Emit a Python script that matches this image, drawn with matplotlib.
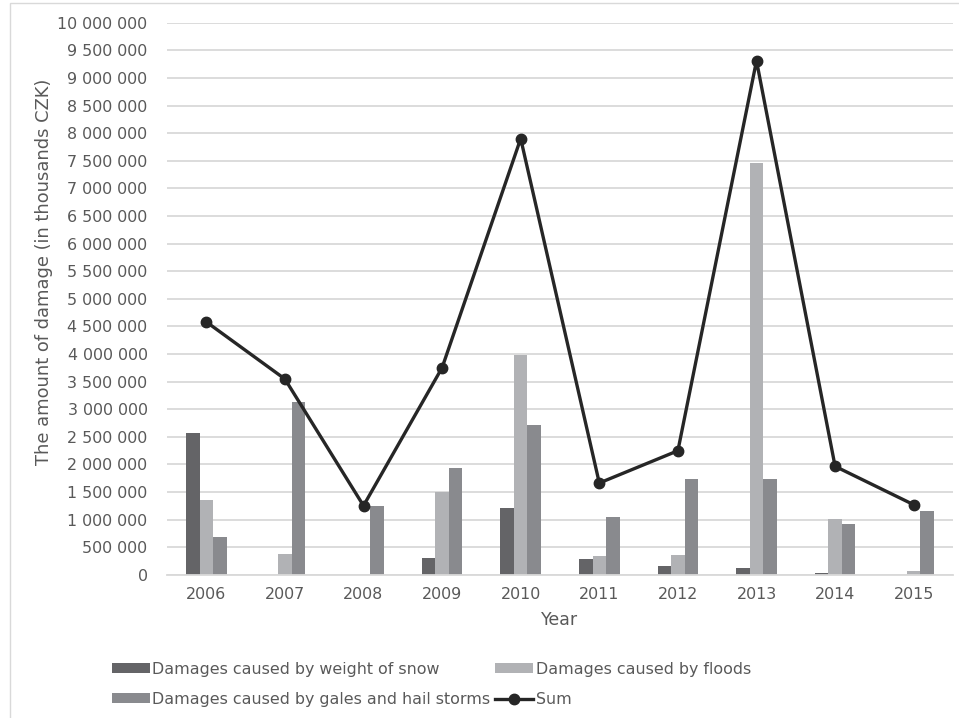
import matplotlib
matplotlib.use("Agg")
import matplotlib.pyplot as plt
import numpy as np
from matplotlib.patches import Rectangle
from matplotlib.ticker import FuncFormatter, MultipleLocator

years = ["2006", "2007", "2008", "2009", "2010", "2011", "2012", "2013", "2014", "2015"]
snow = [2572000, 0, 0, 308000, 1203000, 279000, 152000, 116000, 30000, 0]
floods = [1348000, 380000, 0, 1504000, 3980000, 339000, 351000, 7460000, 1003000, 67000]
gales = [678000, 3128000, 1250000, 1933000, 2706000, 1051000, 1728000, 1728000, 924000, 1160000]
total = [4580000, 3545000, 1250000, 3750000, 7900000, 1661000, 2246000, 9310000, 1963000, 1268000]

labels = ["Damages caused by weight of snow", "Damages caused by floods",
          "Damages caused by gales and hail storms", "Sum"]

plt.rcParams["font.family"] = ["DejaVu Sans"]
TXT = "#595959"

W, H = 959, 718
fig = plt.figure(figsize=(W / 100, H / 100), dpi=100)

# outer chart frame
fig.patches.append(Rectangle((10 / W, -0.05), 1.2, (H - 3) / H + 0.05,
                             transform=fig.transFigure, fill=False,
                             edgecolor="#D9D9D9", linewidth=1.0))

ax = fig.add_axes([167 / W, (H - 574.7) / H, (953 - 167) / W, (574.7 - 22.7) / H])

x = np.arange(len(years))
bw = 0.172
b_snow = ax.bar(x - bw, snow, bw, color="#646467", zorder=2)
b_flood = ax.bar(x, floods, bw, color="#B1B2B5", zorder=2)
b_gale = ax.bar(x + bw, gales, bw, color="#898A8E", zorder=2)
l_sum, = ax.plot(x, total, color="#262626", lw=2.4, marker="o", markersize=7.5, zorder=3)

ax.set_xlim(-0.5, len(years) - 0.5)
ax.set_ylim(0, 10000000)
ax.yaxis.set_major_locator(MultipleLocator(500000))
ax.yaxis.set_major_formatter(FuncFormatter(lambda v, p: f"{int(v):,}".replace(",", " ")))
ax.set_xticks(x)
ax.set_xticklabels(years)
ax.grid(axis="y", color="#D9D9D9", linewidth=1.3, zorder=0)
ax.set_axisbelow(True)
for s in ["top", "right", "left"]:
    ax.spines[s].set_visible(False)
ax.spines["bottom"].set_color("#D9D9D9")
ax.spines["bottom"].set_linewidth(1.3)
ax.tick_params(axis="both", length=0, labelsize=11.4, colors=TXT)
ax.tick_params(axis="x", pad=9)
ax.tick_params(axis="y", pad=14)

ax.set_xlabel("Year", fontsize=12.5, color=TXT, labelpad=6)
fig.text(44 / W, 1 - 272 / H, "The amount of damage (in thousands CZK)", rotation=90,
         ha="center", va="center", fontsize=12.9, color=TXT)

# column-major order: left column snow / gales, right column floods / sum
leg = fig.legend([b_snow, b_gale, b_flood, l_sum],
                 [labels[0], labels[2], labels[1], labels[3]], ncol=2,
                 loc="upper left", bbox_to_anchor=(112 / W, (H - 662) / H),
                 frameon=False, fontsize=11.4, handlelength=2.4, handleheight=0.6,
                 handletextpad=0.15, columnspacing=0.3, labelspacing=0.95,
                 borderpad=0, borderaxespad=0)
for t in leg.get_texts():
    t.set_color(TXT)

fig.savefig("out.png", dpi=100)
